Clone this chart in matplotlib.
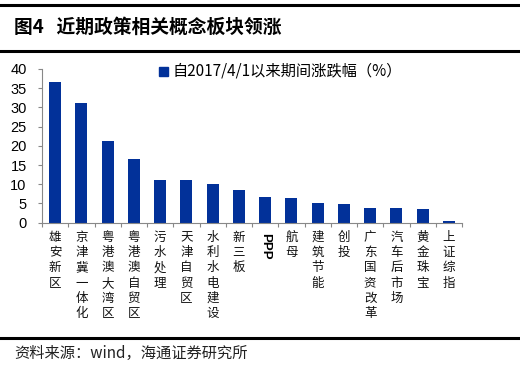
import matplotlib
matplotlib.use("Agg")
import matplotlib.pyplot as plt
from matplotlib.lines import Line2D
import numpy as np

plt.rcParams['font.family'] = ['Noto Sans CJK SC', 'DejaVu Sans']

categories = ["雄安新区", "京津冀一体化", "粤港澳大湾区", "粤港澳自贸区", "污水处理", "天津自贸区",
              "水利水电建设", "新三板", "PPP", "航母", "建筑节能", "创投", "广东国资改革",
              "汽车后市场", "黄金珠宝", "上证综指"]
values = [36.7, 31.2, 21.3, 16.7, 11.1, 11.1, 10.1, 8.4, 6.8, 6.5, 5.1, 4.8, 3.8, 3.8, 3.5, 0.5]
series_name = "自2017/4/1以来期间涨跌幅（%）"
title = "图4   近期政策相关概念板块领涨"
source = "资料来源：wind，海通证券研究所"
yticks = [0, 5, 10, 15, 20, 25, 30, 35, 40]

W, H = 520, 366
fig = plt.figure(figsize=(W / 100, H / 100), dpi=100)
ax = fig.add_axes([42 / W, 1 - 222.7 / H, 420 / W, (222.7 - 69) / H])

x = np.arange(len(categories))
ax.bar(x, values, width=0.45, color='#023199', label=series_name)
ax.set_xlim(-0.5, len(categories) - 0.5)
ax.set_ylim(0, 40)
ax.set_yticks(yticks)
ax.set_yticklabels([str(t) for t in yticks], fontsize=10.5, family=['Liberation Sans'])
ax.tick_params(axis='y', length=3, pad=8, color='#888888', direction='out')
ax.set_xticks(np.arange(len(categories) + 1) - 0.5)
ax.set_xticklabels([])
ax.tick_params(axis='x', length=3, color='#888888', direction='out')
for s in ['top', 'right']:
    ax.spines[s].set_visible(False)
for s in ['left', 'bottom']:
    ax.spines[s].set_color('#888888')
    ax.spines[s].set_linewidth(0.8)

# vertical category labels
for i, c in enumerate(categories):
    xd = ax.transData.transform((i, 0))[0] / W
    if c == "PPP":
        fig.text(xd, 1 - 233 / H, c, rotation=-90, ha='center', va='top',
                 fontsize=9.5, fontweight='bold', family=['Liberation Sans'])
    else:
        fig.text(xd, 1 - 231 / H, "\n".join(c), ha='center', va='top',
                 fontsize=9, linespacing=1.22, color='#111111')

# legend
fig.patches.append(plt.Rectangle((159 / W, 1 - 76 / H), 9 / W, 9 / H, color='#023199',
                                 transform=fig.transFigure, figure=fig))
fig.text(173 / W, 1 - 71 / H, series_name, ha='left', va='center', fontsize=11)

# title and rules
fig.add_artist(Line2D([0, 1], [1 - 5 / H, 1 - 5 / H], color='black', lw=2.2, transform=fig.transFigure))
fig.add_artist(Line2D([0, 1], [1 - 51 / H, 1 - 51 / H], color='black', lw=2.2, transform=fig.transFigure))
fig.add_artist(Line2D([0, 1], [1 - 338 / H, 1 - 338 / H], color='black', lw=2.2, transform=fig.transFigure))
fig.text(14 / W, 1 - 27 / H, title, ha='left', va='center', fontsize=13.5, fontweight='bold')
fig.text(14 / W, 1 - 353 / H, source, ha='left', va='center', fontsize=11, color='#222222')

fig.savefig("out.png", dpi=100)
